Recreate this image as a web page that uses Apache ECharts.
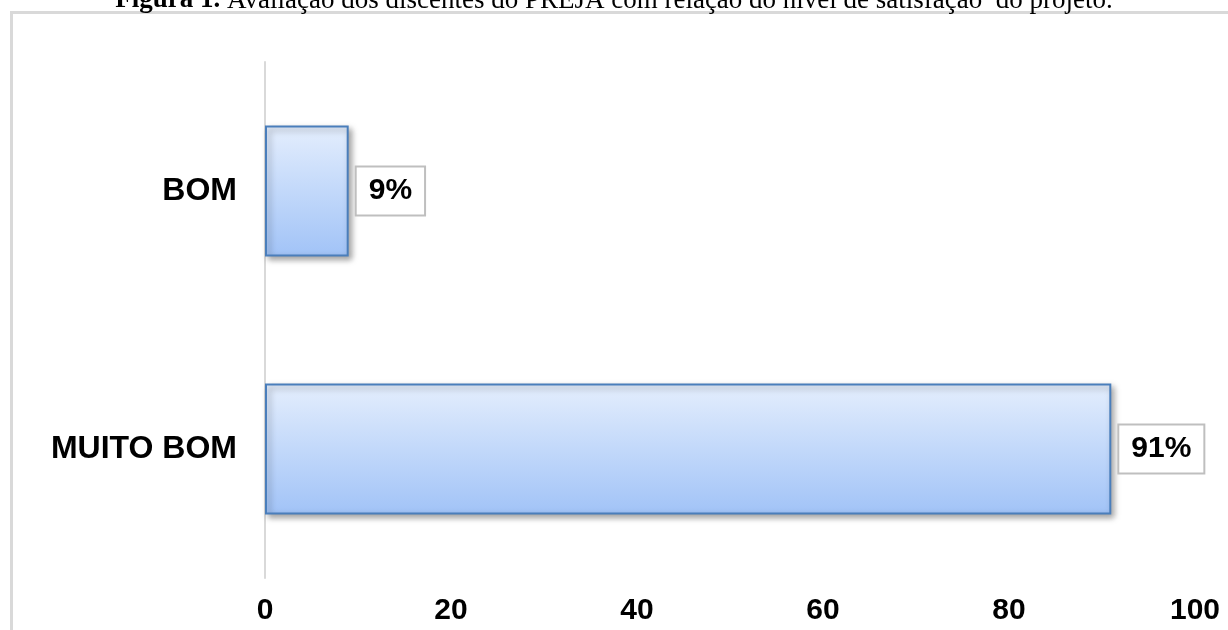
<!DOCTYPE html>
<html>
<head>
<meta charset="utf-8">
<script src="https://cdn.jsdelivr.net/npm/echarts@6/dist/echarts.min.js"></script>
<style>
  html, body { margin: 0; padding: 0; background: #fff; overflow: hidden; }
  #frame {
    position: absolute; left: 10px; top: 11px;
    width: 1260px; height: 680px;
    border: 3px solid #d9d9d9; box-sizing: border-box;
  }
  #chart { position: absolute; left: 0; top: 0; width: 1228px; height: 630px; }
</style>
</head>
<body>
<div id="frame"></div>
<div id="chart"></div>
<script>
// categorias (de baixo para cima) e percentuais
const categories = ['MUITO BOM', 'BOM'];
const values = [91, 9];
const xTicks = [0, 20, 40, 60, 80, 100];

const chart = echarts.init(document.getElementById('chart'));

const option = {
  animation: false,
  title: {
    text: '{b|Figura 1.} Avaliação dos discentes do PREJA com relação do nível de satisfação  do projeto.',
    left: 'center',
    top: -18,
    textStyle: {
      fontFamily: 'Liberation Serif, Times New Roman, serif',
      fontSize: 27,
      fontWeight: 'normal',
      color: '#000',
      rich: {
        b: { fontFamily: 'Liberation Serif, Times New Roman, serif', fontSize: 27, fontWeight: 'bold', color: '#000' }
      }
    }
  },
  grid: { left: 265, right: 33, top: 62, bottom: 52 },
  xAxis: {
    type: 'value',
    min: xTicks[0],
    max: xTicks[xTicks.length - 1],
    interval: 20,
    axisLine: { show: false },
    axisTick: { show: false },
    splitLine: { show: false },
    axisLabel: {
      margin: 18,
      color: '#000',
      fontFamily: 'Liberation Sans, Arial, sans-serif',
      fontWeight: 'bold',
      fontSize: 30
    }
  },
  yAxis: {
    type: 'category',
    data: categories,
    axisLine: { show: true, lineStyle: { color: '#d9d9d9', width: 2 } },
    axisTick: { show: false },
    axisLabel: {
      margin: 28,
      color: '#000',
      fontFamily: 'Liberation Sans, Arial, sans-serif',
      fontWeight: 'bold',
      fontSize: 32
    }
  },
  series: [{
    type: 'bar',
    data: values,
    barWidth: 131,
    itemStyle: {
      color: new echarts.graphic.LinearGradient(0, 0, 0, 1, [
        { offset: 0, color: '#e4eefd' },
        { offset: 1, color: '#a1c3f7' }
      ]),
      borderColor: '#4a7ebb',
      borderWidth: 2,
      shadowColor: 'rgba(0,0,0,0.35)',
      shadowBlur: 6,
      shadowOffsetX: 3,
      shadowOffsetY: 3
    },
    label: {
      show: true,
      position: 'right',
      distance: 8,
      formatter: p => p.value + '%',
      color: '#000',
      fontFamily: 'Liberation Sans, Arial, sans-serif',
      fontWeight: 'bold',
      fontSize: 30,
      backgroundColor: '#fff',
      borderColor: '#bfbfbf',
      borderWidth: 2,
      padding: [9, 12, 8, 12]
    }
  }]
};

chart.setOption(option);
</script>
</body>
</html>
